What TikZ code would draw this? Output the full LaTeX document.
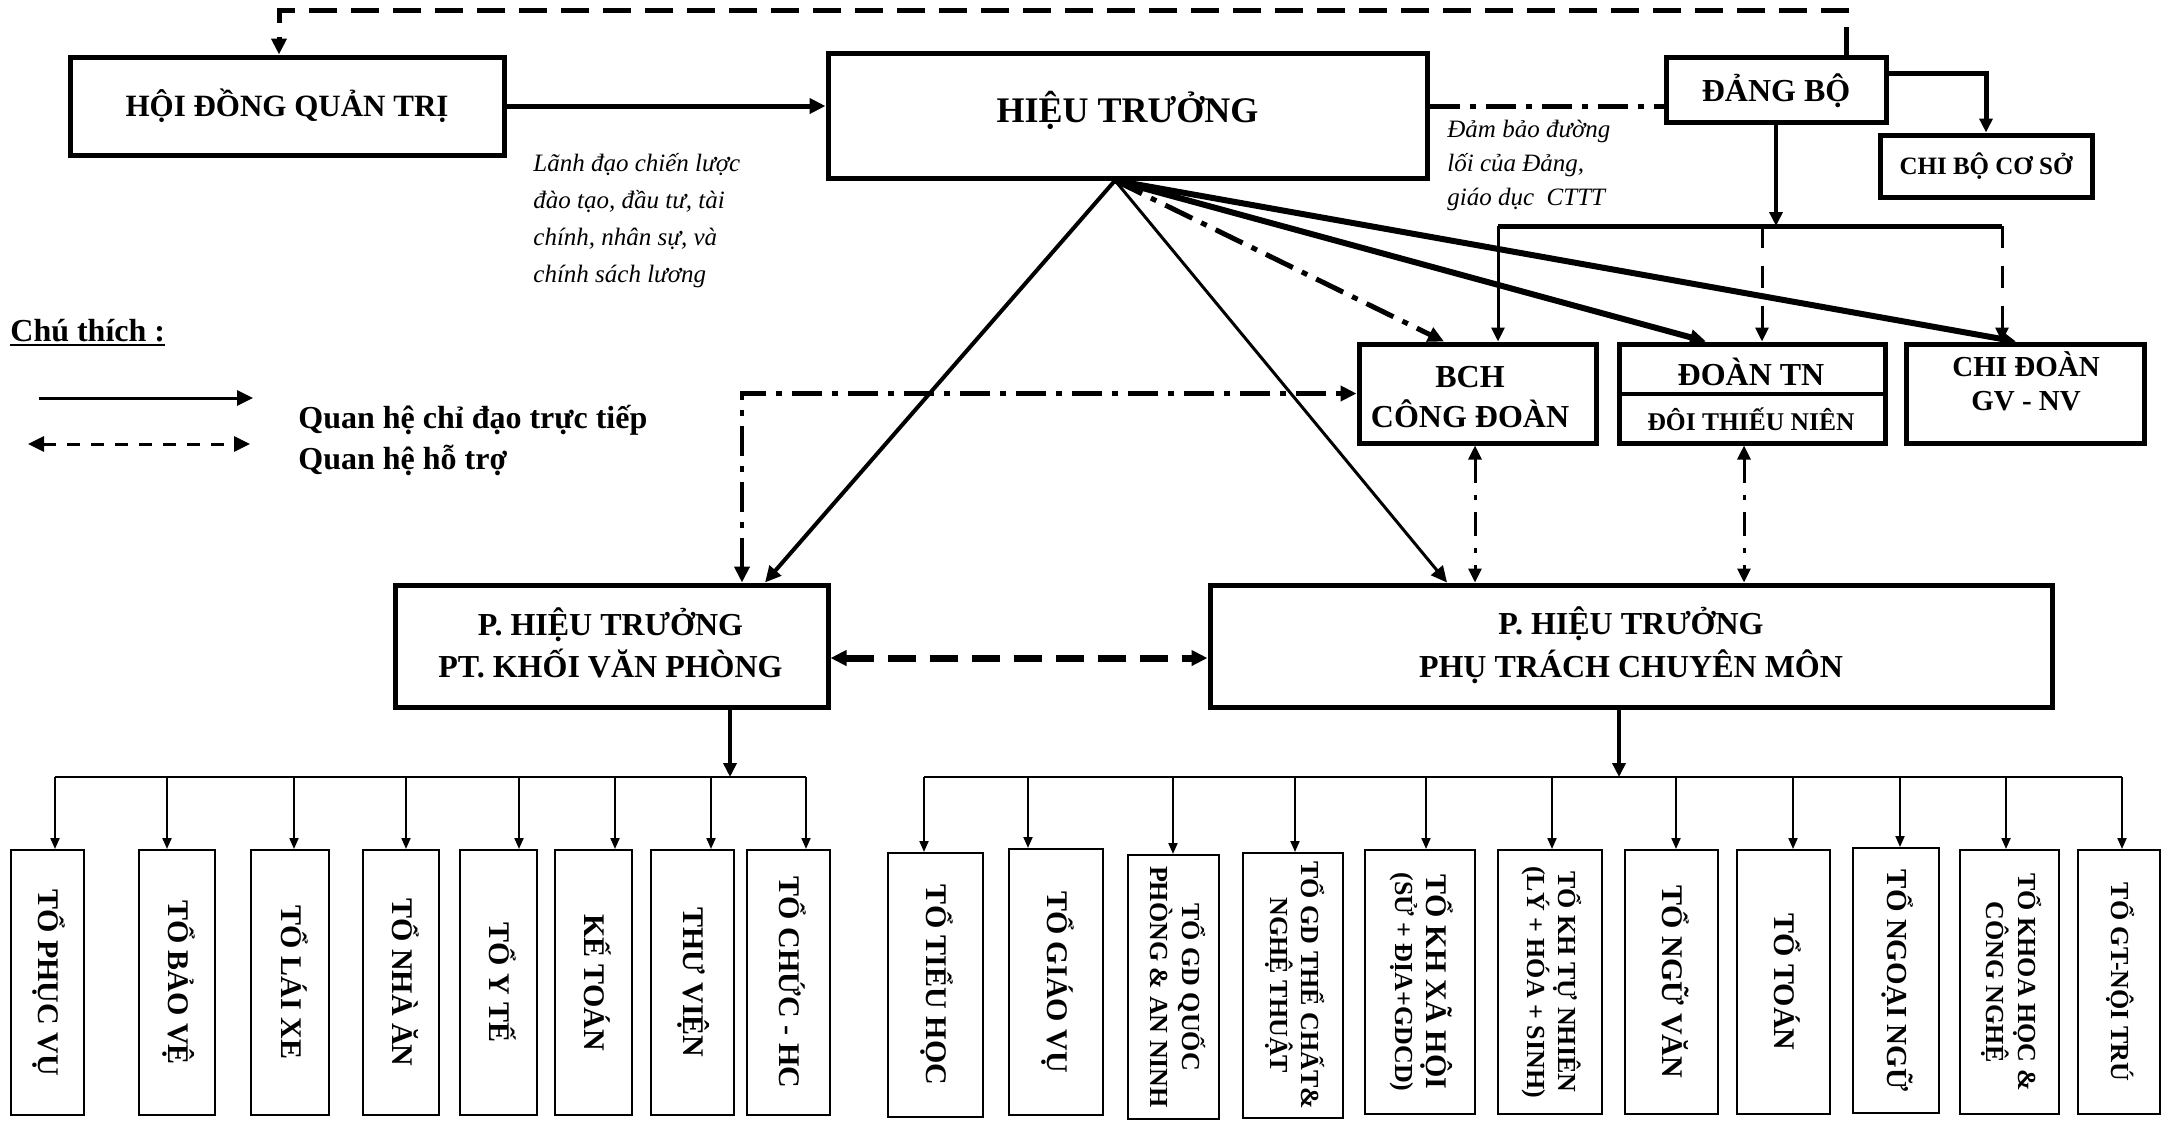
\documentclass[tikz,border=0pt]{standalone}
\usepackage{fontspec}
\setmainfont{Liberation Serif}
\usepackage{graphicx}
\usetikzlibrary{arrows.meta}

\tikzset{
  box/.style={draw, line width=2.5pt, inner sep=0pt},
  tobox/.style={draw, line width=1pt, inner sep=0pt, font=\bfseries},
  lbl/.style={anchor=base, inner sep=0pt, font=\bfseries\fontsize{16}{20}\selectfont},
  note/.style={anchor=base west, inner sep=0pt, align=left},
  tipL/.style={-{Triangle[length=8pt,width=7.5pt]}},
  tipM/.style={-{Triangle[length=7pt,width=6.5pt]}},
  tipS/.style={-{Triangle[length=5.5pt,width=4.5pt]}},
  tipLL/.style={{Triangle[length=8pt,width=7.5pt]}-{Triangle[length=8pt,width=7.5pt]}},
  tipMM/.style={{Triangle[length=7pt,width=6.5pt]}-{Triangle[length=7pt,width=6.5pt]}},
  dashdot/.style={dash pattern=on 15pt off 5pt on 3pt off 5pt},
  dashdotthin/.style={dash pattern=on 12pt off 6pt on 2.5pt off 6pt},
  longdash/.style={dash pattern=on 14pt off 7pt},
  middash/.style={dash pattern=on 11pt off 9pt},
  busline/.style={line width=1pt},
}

\newcommand\tobox[8]{%
  \pgfmathsetmacro\tbx{(#2+#3)/2}%
  \pgfmathsetmacro\tby{(#4+#5)/2}%
  \pgfmathsetmacro\tbw{(#3-#2)/2}%
  \pgfmathsetmacro\tbh{(#5-#4)/2}%
  \node[tobox, minimum width=\tbw pt, minimum height=\tbh pt] (#1) at (\tbx,\tby)
    {\rotatebox{-90}{\fontsize{#7}{15}\selectfont\begin{tabular}{@{}c@{}}#8\end{tabular}}};%
  \coordinate (#1a) at (#1.north -| #6,0);%
}

\begin{document}
\begin{tikzpicture}[x=0.5pt,y=-0.5pt]
\useasboundingbox (0,0) rectangle (2168,1120);

% ---------- main boxes ----------
\node[box, minimum width=217pt, minimum height=49pt, font=\bfseries\fontsize{15.5}{18}\selectfont,
      text height=10.2pt, text depth=0pt] (HDQT) at (287,106) {HỘI ĐỒNG QUẢN TRỊ};
\node[box, minimum width=299.5pt, minimum height=62.5pt, font=\bfseries\fontsize{18}{22}\selectfont,
      text height=11.9pt, text depth=4.5pt] (HT) at (1127.5,115.5) {HIỆU TRƯỞNG};
\node[box, minimum width=110pt, minimum height=32.5pt, font=\bfseries\fontsize{16}{20}\selectfont,
      text height=12pt, text depth=0pt] (DB) at (1776,89.5) {ĐẢNG BỘ};
\node[box, minimum width=106pt, minimum height=31pt, font=\bfseries\fontsize{12.5}{15}\selectfont,
      text height=8.3pt, text depth=0pt] (CB) at (1986,166) {CHI BỘ CƠ SỞ};

\node[box, minimum width=118.5pt, minimum height=49.5pt] (BCH) at (1477.5,393.5) {};
\node[box, minimum width=133pt, minimum height=49.5pt] (DTN) at (1752,393.5) {};
\node[box, minimum width=119pt, minimum height=49.5pt] (CD) at (2025,393.5) {};
\draw[line width=2pt] (DTN.west) -- (DTN.east);

\node[lbl] (bchL1) at (1470,387.6) {BCH};
\node[lbl] (bchL2) at (1470,427.6) {CÔNG ĐOÀN};
\node[lbl] (dtnL1) at (1751,385.6) {ĐOÀN TN};
\node[lbl, font=\bfseries\fontsize{12.75}{15}\selectfont] (dtnL2) at (1751,430.4) {ĐÔI THIẾU NIÊN};
\node[lbl, font=\bfseries\fontsize{14.5}{17}\selectfont] (cdL1) at (2026,376.6) {CHI ĐOÀN};
\node[lbl, font=\bfseries\fontsize{14.5}{17}\selectfont] (cdL2) at (2026,410.6) {GV - NV};

\node[box, minimum width=216.5pt, minimum height=61pt] (PVP) at (611.5,646) {};
\node[box, minimum width=421pt, minimum height=61pt] (PCM) at (1631,646) {};
\node[lbl] (pvpL1) at (610.5,635.6) {P. HIỆU TRƯỞNG};
\node[lbl] (pvpL2) at (610.5,677.6) {PT. KHỐI VĂN PHÒNG};
\node[lbl] (pcmL1) at (1631,634.6) {P. HIỆU TRƯỞNG};
\node[lbl] (pcmL2) at (1631,677.6) {PHỤ TRÁCH CHUYÊN MÔN};

% ---------- notes (base = last line) ----------
\node[note, font=\itshape\fontsize{12.5}{18.5}\selectfont] (note1) at (533,282)
  {Lãnh đạo chiến lược\\đào tạo, đầu tư, tài\\chính, nhân sự, và\\chính sách lương};
\node[note, font=\itshape\fontsize{12.5}{17}\selectfont] (note2) at (1447,205)
  {Đảm bảo đường\\lối của Đảng,\\giáo dục~ CTTT};

% ---------- legend ----------
\node[anchor=base west, inner sep=0pt, font=\bfseries\fontsize{16}{20}\selectfont] (lgT) at (10,341)
  {\setbox0\hbox{Chú thích :}\rlap{\rule[-2.4pt]{\wd0}{1pt}}\box0};
\node[anchor=base west, inner sep=0pt, font=\bfseries\fontsize{16}{20}\selectfont] (lg1) at (298,428) {Quan hệ chỉ đạo trực tiếp};
\node[anchor=base west, inner sep=0pt, font=\bfseries\fontsize{16}{20}\selectfont] (lg2) at (298,469) {Quan hệ hỗ trợ};
\coordinate (la1) at (39,398);
\coordinate (la2) at (253,398);
\coordinate (lb1) at (28,444);
\coordinate (lb2) at (250,444);
\draw[line width=1.5pt, tipL] (la1) -- (la2);
\draw[line width=1.5pt, dash pattern=on 6.5pt off 5.5pt, tipLL] (lb1) -- (lb2);

% ---------- top connectors ----------
\draw[line width=2.5pt, tipL] (HDQT.east) -- (HT.west |- HDQT.east);
\draw[line width=2.5pt, dashdot] (HT.east |- HDQT.east) -- (DB.west |- HDQT.east);
\coordinate (dbTop) at ([xshift=35pt]DB.north);
\coordinate (hqTop) at ([xshift=-4pt]HDQT.north);
\draw[line width=2.5pt, longdash, tipL] (dbTop) -- (dbTop |- 0,10) -| (hqTop);
\draw[line width=2.5pt, tipM] ([yshift=8.25pt]DB.east) -| (CB.north);

\coordinate (dbj) at (DB.south |- 0,226);
\coordinate (bchT) at ([xshift=10.25pt]BCH.north);
\coordinate (dtnT) at ([xshift=5pt]DTN.north);
\coordinate (cdT) at ([xshift=-11.5pt]CD.north);
\draw[line width=1.75pt, tipM] (DB.south) -- (dbj);
\draw[line width=2.5pt] (bchT |- dbj) -- (cdT |- dbj);
\draw[line width=1.5pt, tipM] (bchT |- dbj) -- (bchT);
\draw[line width=1.5pt, middash, tipM] (dtnT |- dbj) -- (dtnT);
\draw[line width=1.5pt, middash, tipM] (cdT |- dbj) -- (cdT);

% ---------- diagonals from HIEU TRUONG ----------
\coordinate (hto) at ([xshift=-6.25pt]HT.south);
\draw[line width=2pt, tipL] (hto) -- ([xshift=76.75pt]PVP.north);
\draw[line width=1.5pt, tipL] (hto) -- ([xshift=-92pt]PCM.north);
\draw[line width=2.5pt, dashdot, tipL] (hto) -- ([xshift=-16.75pt]BCH.north);
\draw[line width=3pt, tipL] (hto) -- ([xshift=-23pt]DTN.north);
\draw[line width=3pt, tipL] (hto) -- ([xshift=-4.5pt]CD.north);

% ---------- support relations ----------
\draw[line width=2.25pt, dashdot, tipLL] ([xshift=65.25pt]PVP.north) |- (BCH.west);
\coordinate (bcs) at ([xshift=-1.25pt]BCH.south);
\coordinate (dts) at ([xshift=-4pt]DTN.south);
\draw[line width=1.5pt, dashdotthin, tipMM] (bcs) -- (bcs |- PCM.north);
\draw[line width=1.5pt, dashdotthin, tipMM] (dts) -- (dts |- PCM.north);
\draw[line width=3.5pt, longdash, tipLL] ([yshift=-6pt]PVP.east) -- ([yshift=-6pt]PCM.west);

% ---------- bottom boxes ----------
\tobox{t1}{11}{84}{850}{1115}{55}{15}{TỔ PHỤC VỤ}
\tobox{t2}{139}{215}{850}{1115}{167}{15}{TỔ BẢO VỆ}
\tobox{t3}{251}{329}{850}{1115}{294}{15}{TỔ LÁI XE}
\tobox{t4}{363}{439}{850}{1115}{406}{15}{TỔ NHÀ ĂN}
\tobox{t5}{460}{537}{850}{1115}{519}{15}{TỔ Y TẾ}
\tobox{t6}{555}{632}{850}{1115}{615}{15}{KẾ TOÁN}
\tobox{t7}{651}{734}{850}{1115}{711}{15}{THƯ VIỆN}
\tobox{t8}{747}{830}{850}{1115}{806}{15}{TỔ CHỨC - HC}
\tobox{t9}{888}{983}{853}{1117}{924}{15}{TỔ TIỂU HỌC}
\tobox{t10}{1009}{1103}{849}{1115}{1028}{15}{TỔ GIÁO VỤ}
\tobox{t11}{1128}{1219}{855}{1119}{1173}{13}{TỔ GD QUỐC\\PHÒNG \& AN NINH}
\tobox{t12}{1243}{1343}{853}{1118}{1295}{13}{TỔ GD THỂ CHẤT\&\\NGHỆ THUẬT}
\tobox{t13}{1365}{1475}{850}{1114}{1426}{13}{{\fontsize{15}{15}\selectfont TỔ KH XÃ HỘI}\\(SỬ + ĐỊA+GDCD)}
\tobox{t14}{1498}{1602}{850}{1114}{1552}{13}{TỔ KH TỰ NHIÊN\\(LÝ + HÓA + SINH)}
\tobox{t15}{1625}{1718}{850}{1114}{1676}{15}{TỔ NGỮ VĂN}
\tobox{t16}{1737}{1830}{850}{1114}{1793}{15}{TỔ TOÁN}
\tobox{t17}{1853}{1939}{848}{1113}{1900}{14.5}{TỔ NGOẠI NGỮ}
\tobox{t18}{1960}{2059}{850}{1114}{2006}{13}{TỔ KHOA HỌC \&\\CÔNG NGHỆ}
\tobox{t19}{2078}{2160}{850}{1114}{2122}{13}{TỔ GT-NỘI TRÚ}

% ---------- buses ----------
\coordinate (pvpD) at ([xshift=59.25pt]PVP.south);
\coordinate (pcmD) at ([xshift=-6pt]PCM.south);
\coordinate (busL) at (pvpD |- 0,777);
\coordinate (busR) at (pcmD |- 0,777);
\draw[line width=2pt, tipM] (pvpD) -- (busL);
\draw[line width=2pt, tipM] (pcmD) -- (busR);
\draw[busline] (t1a |- busL) -- (t8a |- busL);
\draw[busline] (t9a |- busR) -- (t19a |- busR);
\foreach \t in {t1,t2,t3,t4,t5,t6,t7,t8}{
  \draw[busline, tipS] (\t a |- busL) -- (\t a);
}
\foreach \t in {t9,t10,t11,t12,t13,t14,t15,t16,t17,t18,t19}{
  \draw[busline, tipS] (\t a |- busR) -- (\t a);
}
\end{tikzpicture}
\end{document}
